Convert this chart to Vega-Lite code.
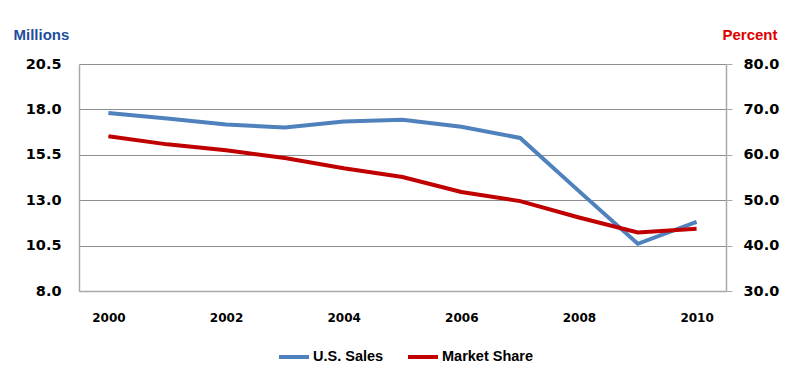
{
  "$schema": "https://vega.github.io/schema/vega-lite/v6.json",
  "autosize": {"type": "none"},
  "width": 647,
  "height": 227,
  "padding": {"left": 79, "top": 64, "right": 69, "bottom": 90},
  "background": "white",
  "config": {
    "view": {"stroke": null},
    "axis": {"labelFont": "DejaVu Sans", "labelFontWeight": "bold", "labelColor": "black"},
    "legend": {"padding": 0}
  },
  "data": {
    "values": [
      {"year": 2000, "sales": 17.8, "share": 64.1},
      {"year": 2001, "sales": 17.5, "share": 62.3},
      {"year": 2002, "sales": 17.17, "share": 61.0},
      {"year": 2003, "sales": 17.0, "share": 59.3},
      {"year": 2004, "sales": 17.34, "share": 57.05},
      {"year": 2005, "sales": 17.43, "share": 55.1},
      {"year": 2006, "sales": 17.04, "share": 51.8},
      {"year": 2007, "sales": 16.43, "share": 49.8},
      {"year": 2008, "sales": 13.5, "share": 46.2},
      {"year": 2009, "sales": 10.6, "share": 42.9},
      {"year": 2010, "sales": 11.8, "share": 43.7}
    ]
  },
  "encoding": {
    "x": {
      "field": "year",
      "type": "quantitative",
      "scale": {"domain": [1999.5, 2010.5], "nice": false, "zero": false},
      "axis": {
        "title": null,
        "values": [2000, 2002, 2004, 2006, 2008, 2010],
        "format": "d",
        "grid": false,
        "ticks": false,
        "domainColor": "#A8A8A8",
        "domainWidth": 1.5,
        "labelFontSize": 12,
        "labelPadding": 26,
        "labelBaseline": "middle"
      }
    },
    "color": {
      "type": "nominal",
      "scale": {"domain": ["U.S. Sales", "Market Share"], "range": ["#4F81BD", "#C00000"]},
      "legend": {
        "title": null,
        "orient": "none",
        "direction": "horizontal",
        "legendX": 198,
        "legendY": 276,
        "symbolType": "stroke",
        "symbolSize": 900,
        "symbolStrokeWidth": 4,
        "labelFont": "Liberation Sans",
        "labelFontWeight": "bold",
        "labelFontSize": 14.5,
        "labelColor": "black",
        "labelOffset": 2,
        "columnPadding": 16
      }
    }
  },
  "layer": [
    {
      "mark": {"type": "line", "strokeWidth": 4},
      "encoding": {
        "y": {
          "field": "sales",
          "type": "quantitative",
          "scale": {"domain": [8, 20.5], "nice": false, "zero": false},
          "axis": {
            "title": "Millions",
            "titleAngle": 0,
            "titleAlign": "left",
            "titleBaseline": "middle",
            "titleX": -66,
            "titleY": -30,
            "titleFont": "Liberation Sans",
            "titleFontWeight": "bold",
            "titleFontSize": 15,
            "titleColor": "#1F4E9B",
            "values": [8, 10.5, 13, 15.5, 18, 20.5],
            "format": ".1f",
            "ticks": false,
            "labelPadding": 18,
            "labelFontSize": 14.5,
            "grid": true,
            "gridColor": "#8E8E8E",
            "gridWidth": 1,
            "domainColor": "#A8A8A8",
            "domainWidth": 1.5
          }
        },
        "color": {"datum": "U.S. Sales"}
      }
    },
    {
      "mark": {"type": "line", "strokeWidth": 4},
      "encoding": {
        "y": {
          "field": "share",
          "type": "quantitative",
          "scale": {"domain": [30, 80], "nice": false, "zero": false},
          "axis": {
            "orient": "right",
            "title": "Percent",
            "titleAngle": 0,
            "titleAlign": "left",
            "titleBaseline": "middle",
            "titleX": -4,
            "titleY": -30,
            "titleFont": "Liberation Sans",
            "titleFontWeight": "bold",
            "titleFontSize": 15,
            "titleColor": "#E00000",
            "values": [30, 40, 50, 60, 70, 80],
            "format": ".1f",
            "ticks": true,
            "tickSize": 6,
            "tickColor": "#A8A8A8",
            "labelPadding": 11,
            "labelFontSize": 14.5,
            "grid": false,
            "domainColor": "#A8A8A8",
            "domainWidth": 1.5
          }
        },
        "color": {"datum": "Market Share"}
      }
    }
  ],
  "resolve": {"scale": {"y": "independent"}}
}
